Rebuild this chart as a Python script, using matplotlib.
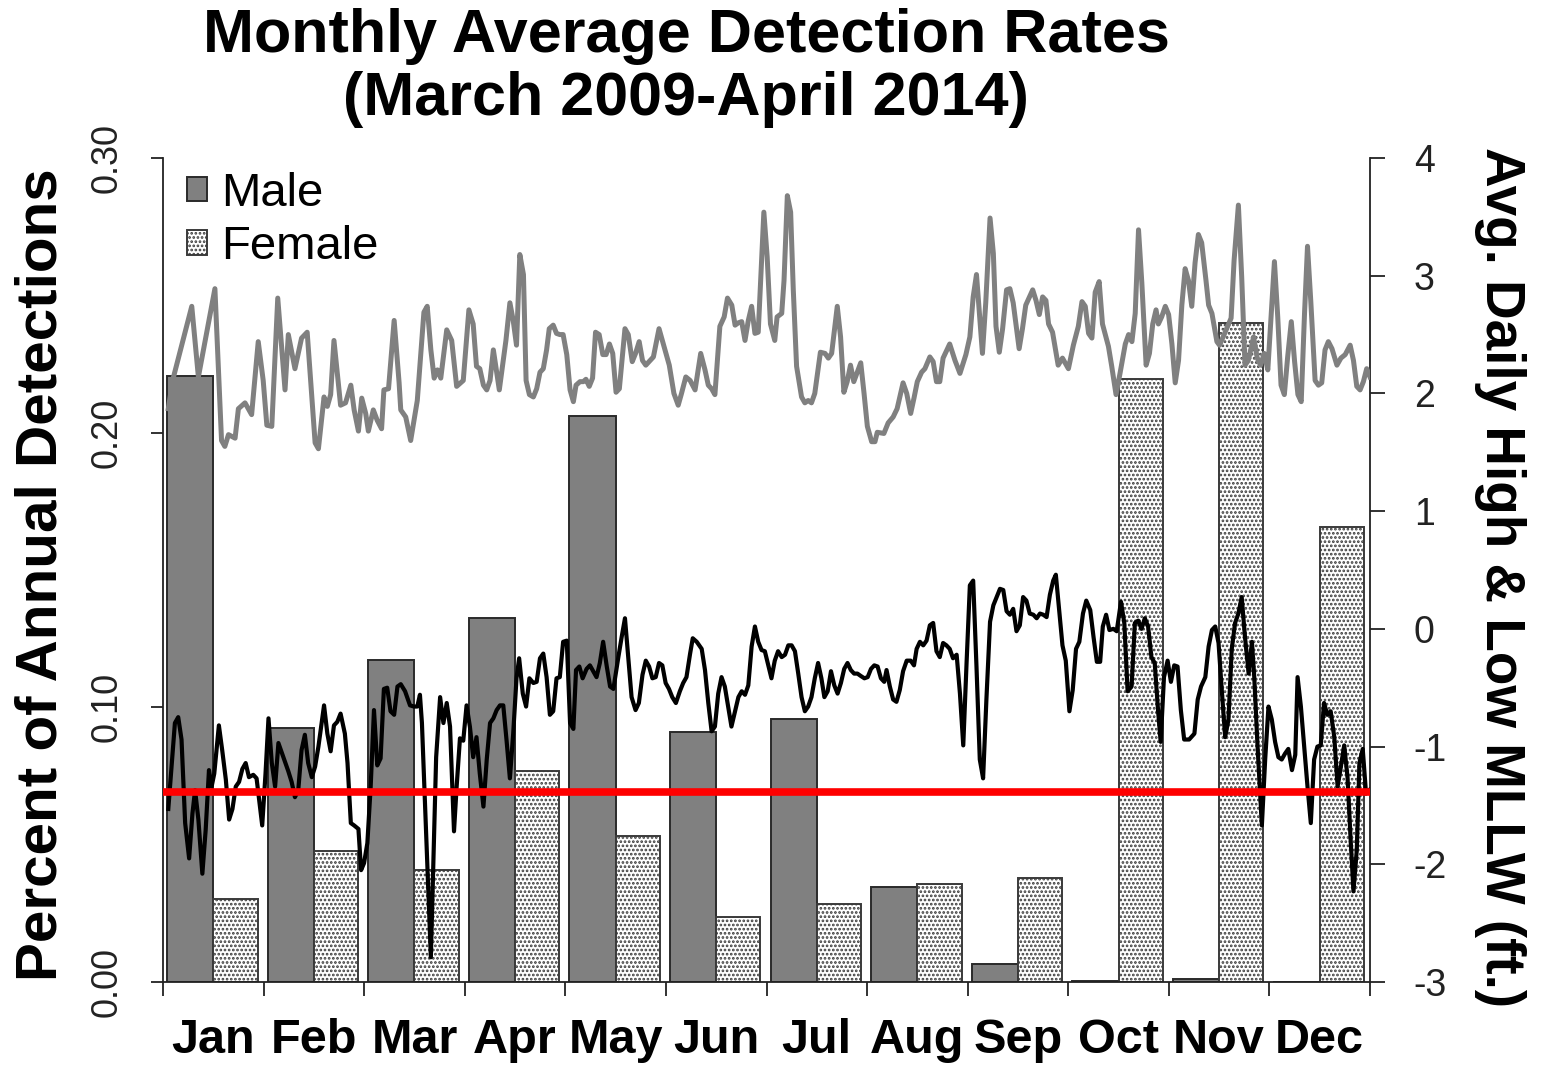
import numpy as np
import matplotlib.pyplot as plt
from matplotlib.patches import Patch

plt.rcParams['font.family'] = ['Liberation Sans', 'DejaVu Sans']
plt.rcParams['hatch.linewidth'] = 1.3

months = ['Jan', 'Feb', 'Mar', 'Apr', 'May', 'Jun',
          'Jul', 'Aug', 'Sep', 'Oct', 'Nov', 'Dec']
male = [0.2206, 0.0923, 0.1172, 0.1324, 0.2060, 0.0911,
        0.0957, 0.0347, 0.0064, 0.0004, 0.0011, 0.0]
female = [0.0301, 0.0478, 0.0408, 0.0769, 0.0531, 0.0235,
          0.0284, 0.0356, 0.0377, 0.2195, 0.2398, 0.1656]

# (day of year, avg daily high tide ft MLLW)
high_tide = [
    (1.6, 1.87), (3.0, 2.12), (8.7, 2.74), (10.7, 2.14), (15.7, 2.89), (17.7, 1.60),
    (18.7, 1.55), (19.8, 1.65), (21.8, 1.62), (22.8, 1.87), (24.8, 1.92), (26.8, 1.82),
    (28.8, 2.44), (30.3, 2.11), (31.4, 1.73), (32.9, 1.72), (34.7, 2.81), (36.9, 2.03),
    (37.9, 2.50), (39.9, 2.21), (41.9, 2.47), (43.6, 2.52), (46.0, 1.58), (47.0, 1.53),
    (48.7, 1.97), (49.7, 1.89), (50.7, 1.99), (51.7, 2.45), (53.7, 1.90), (55.2, 1.92),
    (56.8, 2.07), (57.8, 1.86), (59.1, 1.68), (60.1, 1.96), (61.3, 1.83), (62.1, 1.68),
    (63.6, 1.86), (64.8, 1.77), (66.1, 1.70), (66.8, 2.03), (68.2, 2.04), (69.9, 2.62),
    (71.4, 2.09), (71.9, 1.86), (73.4, 1.80), (74.9, 1.60), (76.9, 1.94), (78.9, 2.69),
    (79.9, 2.74), (81.0, 2.37), (82.0, 2.13), (83.0, 2.20), (84.0, 2.13), (85.8, 2.54),
    (87.3, 2.45), (88.8, 2.06), (90.8, 2.11), (92.5, 2.71), (93.8, 2.59), (94.8, 2.23),
    (95.8, 2.21), (96.9, 2.07), (97.9, 2.03), (98.9, 2.11), (99.9, 2.37), (101.7, 2.03),
    (103.7, 2.45), (104.9, 2.77), (105.9, 2.62), (106.9, 2.41), (107.9, 3.18), (109.0, 3.01),
    (109.8, 2.11), (110.8, 1.99), (112.0, 1.97), (113.0, 2.04), (114.0, 2.18), (115.0, 2.21),
    (116.0, 2.37), (116.8, 2.55), (118.0, 2.58), (119.0, 2.51), (120.0, 2.50), (121.0, 2.50),
    (122.1, 2.33), (123.1, 2.03), (124.1, 1.93), (124.9, 2.07), (126.1, 2.10), (127.1, 2.10),
    (127.9, 2.12), (128.9, 2.06), (129.9, 2.13), (130.8, 2.52), (131.9, 2.50), (133.0, 2.33),
    (134.0, 2.33), (135.0, 2.42), (136.0, 2.34), (137.0, 2.01), (138.0, 2.04), (139.7, 2.55),
    (140.7, 2.50), (141.9, 2.27), (142.9, 2.34), (144.0, 2.44), (145.0, 2.28), (146.0, 2.24),
    (147.3, 2.28), (148.3, 2.31), (150.0, 2.55), (151.3, 2.42), (153.1, 2.24), (154.5, 2.00),
    (155.8, 1.90), (156.8, 2.00), (158.1, 2.14), (159.4, 2.11), (160.9, 2.03), (162.6, 2.34),
    (163.9, 2.20), (164.9, 2.07), (165.9, 2.04), (166.9, 1.99), (168.4, 2.57), (169.7, 2.65),
    (170.7, 2.81), (172.0, 2.75), (173.0, 2.58), (174.0, 2.60), (175.0, 2.61), (176.0, 2.45),
    (177.0, 2.62), (178.0, 2.74), (179.0, 2.51), (180.0, 2.52), (181.7, 3.54), (182.7, 3.16),
    (183.7, 2.59), (185.0, 2.45), (185.7, 2.65), (187.1, 2.68), (187.8, 2.96), (188.8, 3.68),
    (189.8, 3.54), (190.6, 2.88), (191.6, 2.23), (193.1, 1.97), (194.1, 1.92), (195.1, 1.94),
    (196.1, 1.92), (197.1, 2.00), (198.8, 2.35), (200.2, 2.34), (201.2, 2.30), (202.2, 2.34),
    (203.9, 2.74), (204.9, 2.48), (205.9, 2.01), (206.9, 2.10), (207.9, 2.24), (208.9, 2.10),
    (211.0, 2.26), (212.0, 2.00), (213.0, 1.72), (214.3, 1.59), (215.3, 1.59), (216.0, 1.67),
    (218.0, 1.66), (219.3, 1.75), (220.8, 1.80), (222.0, 1.87), (223.8, 2.09), (224.9, 2.00),
    (226.1, 1.83), (227.1, 1.96), (228.1, 2.10), (229.4, 2.18), (230.4, 2.21), (231.9, 2.31),
    (232.9, 2.27), (233.9, 2.10), (234.9, 2.10), (235.9, 2.30), (237.9, 2.42), (239.5, 2.28),
    (241.0, 2.17), (242.8, 2.33), (244.0, 2.48), (245.0, 2.82), (246.0, 3.01), (247.8, 2.34),
    (248.8, 2.77), (250.1, 3.49), (251.1, 3.19), (251.9, 2.57), (252.9, 2.35), (253.9, 2.55),
    (255.1, 2.88), (256.1, 2.89), (257.1, 2.77), (258.9, 2.38), (259.9, 2.55), (260.9, 2.75),
    (263.0, 2.88), (264.0, 2.79), (265.0, 2.67), (266.0, 2.82), (267.0, 2.79), (267.8, 2.59),
    (269.0, 2.52), (270.7, 2.24), (272.0, 2.30), (273.8, 2.21), (275.3, 2.41), (276.8, 2.57),
    (277.9, 2.78), (278.9, 2.74), (279.9, 2.51), (280.9, 2.47), (281.9, 2.86), (283.1, 2.95),
    (284.1, 2.59), (285.9, 2.40), (286.9, 2.23), (288.2, 1.99), (289.4, 2.17), (291.0, 2.42),
    (292.0, 2.50), (293.0, 2.44), (294.0, 2.68), (295.0, 3.39), (296.0, 2.94), (297.3, 2.24),
    (298.3, 2.34), (299.3, 2.59), (300.3, 2.71), (301.0, 2.59), (302.0, 2.65), (303.1, 2.74),
    (304.1, 2.67), (305.1, 2.42), (306.1, 2.09), (307.1, 2.28), (308.1, 2.75), (309.1, 3.06),
    (310.1, 2.96), (311.1, 2.74), (312.1, 3.11), (313.1, 3.35), (314.1, 3.28), (315.4, 2.96),
    (316.2, 2.75), (317.2, 2.68), (318.7, 2.44), (319.5, 2.41), (321.2, 2.52), (323.0, 2.64),
    (323.9, 3.13), (325.2, 3.60), (326.2, 2.99), (327.2, 2.24), (328.2, 2.28), (329.8, 2.48),
    (330.9, 2.30), (331.9, 2.24), (333.0, 2.34), (334.1, 2.20), (335.0, 2.62), (336.1, 3.12),
    (337.1, 2.65), (338.1, 2.07), (339.1, 1.99), (340.1, 2.31), (341.2, 2.61), (342.2, 2.27),
    (343.2, 1.99), (344.2, 1.93), (345.2, 2.68), (346.1, 3.25), (347.1, 2.78), (348.4, 2.11),
    (349.4, 2.07), (350.4, 2.09), (351.4, 2.37), (352.4, 2.44), (353.5, 2.38), (355.0, 2.24),
    (356.2, 2.30), (357.5, 2.33), (359.0, 2.41), (360.0, 2.28), (361.0, 2.06), (362.0, 2.03),
    (363.0, 2.10), (364.0, 2.21), (365.0, 2.14),
]

# (day of year, avg daily low tide ft MLLW)
low_tide = [
    (1.6, -1.53), (3.6, -0.80), (4.6, -0.75), (5.6, -0.94), (6.7, -1.65), (7.9, -1.95),
    (8.9, -1.57), (9.7, -1.37), (10.7, -1.62), (11.9, -2.08), (12.9, -1.71), (13.9, -1.20),
    (14.7, -1.34), (15.5, -1.23), (16.9, -0.82), (17.9, -1.03), (19.0, -1.28), (20.0, -1.62),
    (21.0, -1.53), (22.0, -1.34), (23.0, -1.30), (24.0, -1.19), (25.0, -1.14), (26.0, -1.26),
    (27.3, -1.24), (28.3, -1.27), (29.3, -1.51), (30.0, -1.67), (31.0, -1.23), (31.9, -0.76),
    (32.9, -1.14), (33.9, -1.34), (34.9, -0.97), (36.4, -1.09), (37.9, -1.21), (38.9, -1.30),
    (39.9, -1.43), (40.9, -1.37), (41.9, -1.03), (42.9, -0.90), (43.9, -1.14), (45.0, -1.26),
    (46.0, -1.17), (47.0, -1.00), (48.7, -0.65), (49.7, -0.89), (50.7, -1.04), (51.7, -0.82),
    (52.7, -0.79), (53.7, -0.72), (55.0, -0.89), (55.8, -1.14), (56.8, -1.65), (57.8, -1.67),
    (59.1, -1.70), (59.9, -2.05), (60.8, -1.99), (61.8, -1.82), (62.8, -1.34), (63.8, -0.69),
    (64.8, -1.16), (65.8, -1.10), (66.8, -0.51), (67.8, -0.50), (68.8, -0.70), (69.9, -0.73),
    (70.9, -0.49), (71.9, -0.47), (73.2, -0.53), (74.7, -0.65), (75.9, -0.66), (76.9, -0.66),
    (77.7, -0.56), (78.3, -0.80), (81.0, -2.79), (82.6, -1.09), (83.8, -0.58), (84.8, -0.80),
    (85.8, -0.63), (86.8, -0.83), (88.0, -1.72), (88.8, -1.34), (89.8, -0.93), (90.8, -0.95),
    (91.8, -0.65), (92.8, -0.83), (93.8, -1.09), (94.8, -0.92), (95.8, -1.23), (96.9, -1.51),
    (97.9, -1.11), (98.9, -0.80), (99.9, -0.76), (100.9, -0.69), (101.9, -0.65), (102.9, -0.65),
    (103.9, -0.95), (104.9, -1.27), (105.9, -0.89), (106.9, -0.42), (107.7, -0.25), (108.8, -0.55),
    (109.8, -0.66), (110.8, -0.42), (112.0, -0.46), (113.0, -0.45), (114.0, -0.25), (115.0, -0.21),
    (116.0, -0.41), (117.0, -0.73), (118.0, -0.70), (119.0, -0.42), (120.0, -0.41), (121.0, -0.11),
    (122.1, -0.10), (123.1, -0.80), (124.1, -0.85), (124.9, -0.35), (125.9, -0.32), (126.9, -0.42),
    (128.1, -0.34), (129.1, -0.31), (130.1, -0.36), (131.1, -0.41), (132.1, -0.29), (133.1, -0.11),
    (134.2, -0.32), (135.2, -0.49), (136.2, -0.51), (137.7, -0.24), (138.7, -0.07), (139.7, 0.09),
    (140.7, -0.24), (141.7, -0.58), (142.9, -0.69), (143.9, -0.63), (145.0, -0.39), (146.0, -0.27),
    (147.0, -0.32), (148.0, -0.42), (149.0, -0.41), (150.0, -0.29), (151.0, -0.31), (152.0, -0.46),
    (153.0, -0.51), (154.0, -0.58), (155.1, -0.63), (156.3, -0.53), (157.3, -0.46), (158.3, -0.41),
    (159.4, -0.21), (160.2, -0.08), (161.4, -0.11), (162.9, -0.17), (163.9, -0.35), (164.9, -0.63),
    (165.9, -0.87), (166.9, -0.83), (167.9, -0.55), (168.9, -0.41), (169.9, -0.49), (170.9, -0.66),
    (171.9, -0.83), (173.0, -0.70), (174.0, -0.58), (175.0, -0.53), (176.0, -0.56), (177.0, -0.48),
    (178.0, -0.15), (179.0, 0.02), (180.0, -0.11), (181.0, -0.18), (182.0, -0.19), (184.0, -0.42),
    (185.0, -0.27), (186.0, -0.19), (187.1, -0.24), (188.1, -0.22), (189.1, -0.14), (190.1, -0.14),
    (191.1, -0.19), (192.1, -0.38), (193.1, -0.58), (194.1, -0.70), (195.1, -0.66), (196.1, -0.58),
    (197.1, -0.42), (198.1, -0.29), (199.1, -0.42), (200.0, -0.58), (201.0, -0.53), (202.0, -0.36),
    (203.0, -0.48), (204.0, -0.55), (205.0, -0.46), (206.0, -0.34), (207.0, -0.29), (208.0, -0.35),
    (209.0, -0.38), (210.0, -0.38), (211.0, -0.40), (212.1, -0.42), (213.1, -0.41), (214.1, -0.34),
    (215.1, -0.31), (216.1, -0.32), (217.1, -0.42), (218.1, -0.45), (218.8, -0.35), (219.8, -0.49),
    (220.8, -0.60), (221.8, -0.62), (222.8, -0.52), (223.8, -0.36), (224.9, -0.27), (226.1, -0.27),
    (227.1, -0.31), (227.9, -0.17), (228.9, -0.11), (229.9, -0.14), (230.9, -0.10), (231.9, 0.03),
    (232.9, 0.05), (233.9, -0.19), (234.9, -0.24), (235.9, -0.12), (236.9, -0.14), (237.9, -0.17),
    (238.9, -0.25), (240.0, -0.22), (241.0, -0.55), (242.0, -0.99), (243.0, -0.29), (244.0, 0.37),
    (245.0, 0.41), (246.0, -0.32), (247.0, -1.11), (248.0, -1.27), (249.0, -0.60), (250.1, 0.06),
    (251.1, 0.20), (252.1, 0.27), (253.1, 0.34), (254.1, 0.33), (255.1, 0.15), (256.1, 0.12),
    (257.1, 0.17), (258.1, -0.02), (259.1, 0.03), (260.1, 0.27), (261.1, 0.24), (262.1, 0.13),
    (263.2, 0.12), (264.2, 0.09), (265.2, 0.13), (266.2, 0.12), (267.2, 0.10), (268.2, 0.29),
    (269.2, 0.41), (270.0, 0.46), (271.0, 0.16), (272.0, -0.14), (273.0, -0.27), (274.1, -0.70),
    (275.1, -0.52), (276.1, -0.17), (277.1, -0.11), (278.2, 0.13), (279.2, 0.24), (280.4, 0.16),
    (281.4, -0.07), (282.4, -0.28), (283.4, -0.28), (284.2, 0.02), (285.2, 0.12), (286.2, -0.01),
    (287.4, 0.00), (288.4, -0.02), (289.7, 0.23), (290.7, 0.05), (291.7, -0.53), (292.9, -0.49),
    (293.9, 0.05), (294.9, 0.07), (295.9, 0.00), (296.9, 0.09), (297.9, 0.02), (298.9, -0.24),
    (299.9, -0.29), (300.9, -0.69), (301.7, -0.96), (302.7, -0.41), (303.8, -0.27), (304.8, -0.45),
    (305.8, -0.31), (306.8, -0.32), (307.8, -0.69), (308.8, -0.94), (310.3, -0.94), (311.9, -0.89),
    (312.9, -0.60), (313.9, -0.49), (315.2, -0.41), (316.2, -0.15), (317.2, -0.01), (318.2, 0.02),
    (319.2, -0.12), (320.2, -0.53), (321.2, -0.92), (322.2, -0.77), (323.2, -0.17), (324.2, 0.05),
    (325.2, 0.13), (326.2, 0.27), (327.2, -0.07), (328.3, -0.38), (329.3, -0.11), (330.0, -0.41),
    (331.0, -1.00), (332.3, -1.67), (333.3, -1.11), (334.3, -0.66), (335.3, -0.77), (336.3, -0.96),
    (337.3, -1.09), (338.3, -1.11), (339.3, -1.06), (340.3, -1.02), (341.4, -1.20), (342.4, -1.07),
    (343.1, -0.41), (344.1, -0.66), (345.1, -1.00), (346.1, -1.34), (347.1, -1.65), (348.1, -1.11),
    (349.1, -1.00), (350.1, -0.99), (351.1, -0.63), (352.1, -0.73), (353.1, -0.70), (354.2, -0.92),
    (355.2, -1.34), (356.2, -1.17), (357.2, -0.99), (358.2, -1.26), (359.2, -1.82), (360.0, -2.23),
    (361.0, -1.88), (361.8, -1.14), (362.8, -1.02), (363.8, -1.40), (364.8, -1.37),
]

ref_level = -1.39  # red reference line, ft

fig = plt.figure(figsize=(15.45, 10.65), dpi=100)
ax = fig.add_axes([163 / 1545, 1 - 982 / 1065, 1207 / 1545, 824 / 1065])

x = np.arange(len(months))
ax.bar(x + 0.04, male, width=0.46, align='edge', color='#808080',
       edgecolor='#2a2a2a', linewidth=1.4, zorder=2)
ax.bar(x + 0.50, female, width=0.44, align='edge', color='white',
       edgecolor='#3a3a3a', hatch='....', linewidth=1.4, zorder=2)

ax.set_xlim(0, 12)
ax.set_ylim(0, 0.30)
ax.spines[['top', 'right']].set_visible(False)
for s in ['left', 'bottom']:
    ax.spines[s].set_linewidth(1.3)
    ax.spines[s].set_color('#222222')

ax.set_yticks([0, 0.1, 0.2, 0.3], ['0.00', '0.10', '0.20', '0.30'])
ax.tick_params(axis='y', length=8.5, width=1.3, labelsize=26, pad=19, colors='#222222')
plt.setp(ax.get_yticklabels(), rotation=90, va='center')

ax.set_xticks(np.arange(13))
ax.set_xticklabels([])
ax.set_xticks(x + 0.5, months, minor=True)
ax.tick_params(axis='x', which='major', length=10, width=1.3, colors='#222222')
ax.tick_params(axis='x', which='minor', length=0, labelsize=35, pad=26)
for t in ax.get_xticklabels(minor=True):
    t.set_fontweight('bold')

ax2 = ax.twinx()
ax2.set_ylim(-3, 4)
ax2.spines[['top', 'left', 'bottom']].set_visible(False)
ax2.spines['right'].set_linewidth(1.3)
ax2.spines['right'].set_color('#222222')
ax2.set_yticks(range(-3, 5), [str(v) for v in range(-3, 5)])
ax2.tick_params(axis='y', length=10.5, width=1.3, labelsize=27, pad=21, colors='#222222')

hd = np.array([p[0] for p in high_tide]) / 365 * 12
hv = [p[1] for p in high_tide]
ld = np.array([p[0] for p in low_tide]) / 365 * 12
lv = [p[1] for p in low_tide]
ax2.plot(hd, hv, color='#808080', linewidth=3.6, zorder=3)
ax2.plot(ld, lv, color='black', linewidth=3.0, zorder=3)
ax2.axhline(ref_level, color='red', linewidth=5.5, zorder=4)

handles = [Patch(facecolor='#808080', edgecolor='#2a2a2a', linewidth=1.4),
           Patch(facecolor='white', edgecolor='#3a3a3a', hatch='....', linewidth=1.4)]
ax.legend(handles, ['Male', 'Female'], loc='upper left',
          bbox_to_anchor=(24 / 1207, 1 - 14 / 824), fontsize=34, frameon=False,
          handlelength=0.42, handleheight=0.42, handletextpad=0.3,
          labelspacing=0.2, borderpad=0, borderaxespad=0)

fig.text(0.444, 1 - 68 / 1065, 'Monthly Average Detection Rates\n(March 2009-April 2014)',
         ha='center', va='center', fontsize=44, fontweight='bold', linespacing=1.15)
fig.text(0.027, 0.46, 'Percent of Annual Detections', rotation=90,
         ha='center', va='center', fontsize=42, fontweight='bold')
fig.text(0.971, 0.458, 'Avg. Daily High & Low MLLW (ft.)', rotation=270,
         ha='center', va='center', fontsize=39.5, fontweight='bold')

fig.savefig('out.png', dpi=100)
